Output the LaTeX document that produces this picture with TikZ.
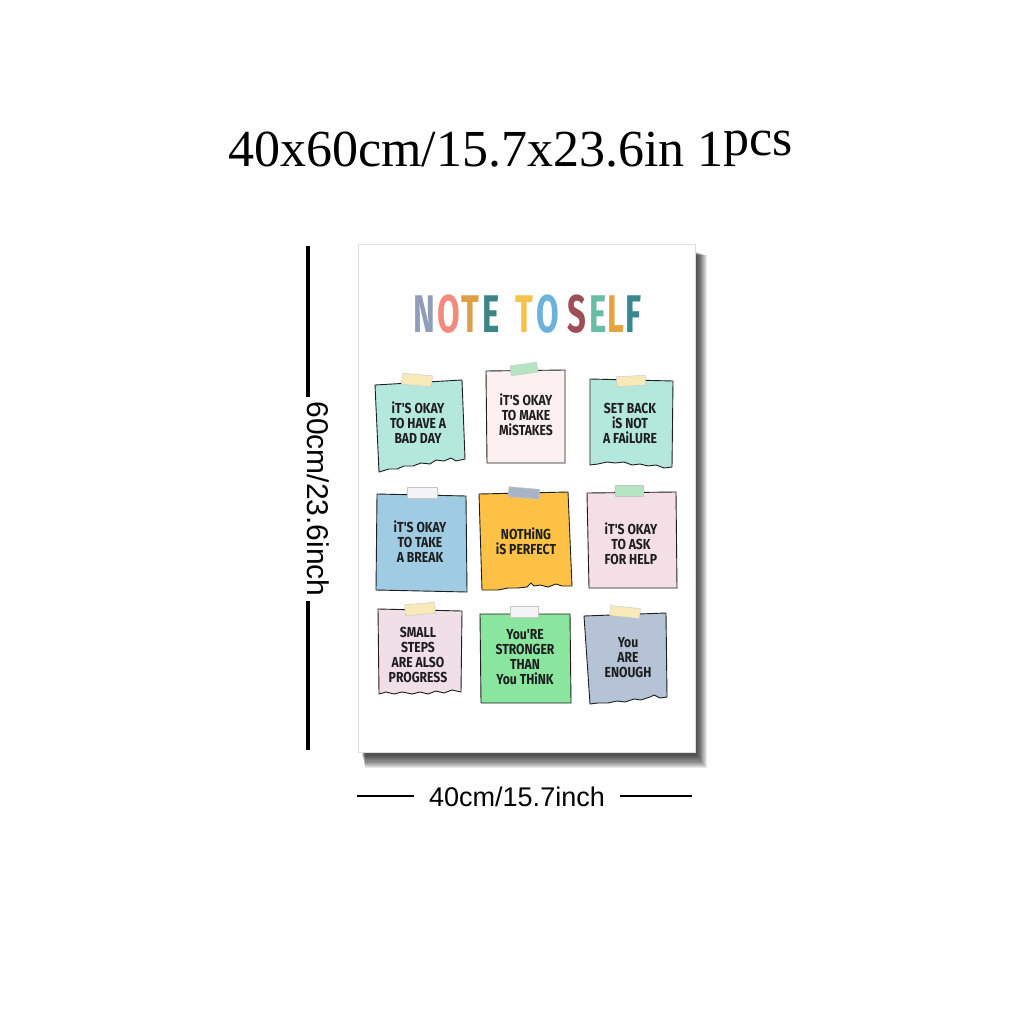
\documentclass[tikz,border=0pt]{standalone}
\usepackage{fontspec}
\setmainfont{Liberation Serif}
\newfontfamily\dimfont{Liberation Sans}
\newfontfamily\notefont{Fira Sans}
\definecolor{cN1}{HTML}{8F9DBA}
\definecolor{cO1}{HTML}{F28B7D}
\definecolor{cT1}{HTML}{DDA047}
\definecolor{cE1}{HTML}{3D8585}
\definecolor{cT2}{HTML}{F6C14E}
\definecolor{cO2}{HTML}{6CB2DC}
\definecolor{cS1}{HTML}{9E4F55}
\definecolor{cE2}{HTML}{69BDA4}
\definecolor{cL1}{HTML}{E3A53C}
\definecolor{cF1}{HTML}{3A8890}
\definecolor{mint}{HTML}{B4E8DD}
\definecolor{palepink}{HTML}{FCF0F0}
\definecolor{skyblue}{HTML}{9FCBE3}
\definecolor{orangey}{HTML}{FDC145}
\definecolor{rosepink}{HTML}{F3DFE5}
\definecolor{lilacpink}{HTML}{F1DFE8}
\definecolor{greeny}{HTML}{8AE59F}
\definecolor{slateblue}{HTML}{B6C3D6}
\definecolor{tapecream}{HTML}{F7E9B8}
\definecolor{tapegreen}{HTML}{B5E4C2}
\definecolor{tapewhite}{HTML}{F4F4F7}
\definecolor{tapegray}{HTML}{A9B3C6}
\definecolor{inkc}{HTML}{1E1E1E}
\begin{document}
\begin{tikzpicture}[x=1pt,y=-1pt,
  notebox/.style={draw=inkc,line width=0.9pt,line join=round},
  tapebox/.style={draw=gray!45,line width=0.4pt,minimum width=30pt,minimum height=11pt,inner sep=0pt},
  notetext/.style={text=inkc,align=center,font=\notefont\bfseries\fontsize{14.5}{15}\selectfont,xscale=0.84,transform shape,inner sep=0pt},
  ltr/.style={anchor=base,font=\notefont\bfseries\fontsize{53}{53}\selectfont,xscale=0.62,transform shape,inner sep=0pt},
  dimline/.style={line width=3.4pt,draw=black},
  hdimline/.style={line width=1.8pt,draw=black}]
\useasboundingbox[fill=white] (0,0) rectangle (1024,1024);
% heading
\node[anchor=base west,inner sep=0pt,font=\fontsize{52}{52}\selectfont] (head) at (228,167) {40x60cm/15.7x23.6in 1\raisebox{0.22em}{pcs}};
% shadow
\foreach \k in {0,...,11}{
  \fill[black,opacity=0.085] (362+\k*0.3,252+\k*0.3) rectangle (697+\k*0.9,756+\k*1.1);
}
% poster
\path[fill=white,draw=gray!25,line width=0.5pt] (358,244) rectangle (695,752);
% title letters
\node[ltr,text=cN1] (l1) at (424,332) {N};
\node[ltr,text=cO1] (l2) at (449,332) {O};
\node[ltr,text=cT1] (l3) at (470,332) {T};
\node[ltr,text=cE1] (l4) at (491,332) {E};
\node[ltr,text=cT2] (l5) at (524,332) {T};
\node[ltr,text=cO2] (l6) at (548,332) {O};
\node[ltr,text=cS1] (l7) at (577,332) {S};
\node[ltr,text=cE2] (l8) at (598,332) {E};
\node[ltr,text=cL1] (l9) at (616,332) {L};
\node[ltr,text=cF1] (l10) at (633,332) {F};
% notes row 1
\path[notebox,fill=mint] (375,385) -- (462,380) -- (465,459) -- (456,461) -- (451,458) -- (444,461) -- (436,460) -- (430,464) -- (421,463) -- (413,466) -- (404,466) -- (397,469) -- (389,469) -- (379,472) -- cycle;
\path[notebox,fill=palepink] (486,371) -- (565,370) -- (565,463) -- (487,463) -- cycle;
\path[notebox,fill=mint] (590,379) -- (673,381) -- (672,467) -- (664,468) -- (656,465) -- (648,466) -- (640,464) -- (632,465) -- (624,462) -- (615,463) -- (607,462) -- (598,464) -- (590,465) -- cycle;
% notes row 2
\path[notebox,fill=skyblue] (377,494) -- (466,496) -- (467,592) -- (376,590) -- cycle;
\path[notebox,fill=orangey] (479,494) -- (568,492) -- (572,586) -- (562,586) -- (556,584) -- (548,587) -- (540,585) -- (534,586) -- (531,583) -- (527,587) -- (518,588) -- (508,588) -- (498,590) -- (482,590) -- cycle;
\path[notebox,fill=rosepink] (587,493) -- (676,492) -- (677,588) -- (589,588) -- cycle;
% notes row 3
\path[notebox,fill=lilacpink] (378,609) -- (462,611) -- (461,692) -- (452,690) -- (444,693) -- (436,691) -- (428,694) -- (420,692) -- (412,694) -- (402,692) -- (394,694) -- (386,692) -- (379,694) -- cycle;
\path[notebox,fill=greeny] (480,614) -- (570,614) -- (571,703) -- (481,703) -- cycle;
\path[notebox,fill=slateblue] (584,616) -- (666,613) -- (667,697) -- (660,698) -- (654,695) -- (650,697) -- (641,700) -- (634,699) -- (625,702) -- (617,701) -- (608,703) -- (598,703) -- (590,704) -- cycle;
% tapes
\node[tapebox,fill=tapecream,rotate=-5] (t1) at (417,380) {};
\node[tapebox,fill=tapegreen,rotate=8,minimum width=27pt,minimum height=10pt] (t2) at (524,369) {};
\node[tapebox,fill=tapecream,rotate=3,minimum width=29pt,minimum height=10pt] (t3) at (631,381) {};
\node[tapebox,fill=tapewhite] (t4) at (422,493) {};
\node[tapebox,fill=tapegray,rotate=-5,minimum width=31pt,minimum height=10pt] (t5) at (524,493) {};
\node[tapebox,fill=tapegreen,minimum width=28pt] (t6) at (629,491) {};
\node[tapebox,fill=tapecream,rotate=5] (t7) at (420,609) {};
\node[tapebox,fill=tapewhite,minimum width=28pt] (t8) at (524,612) {};
\node[tapebox,fill=tapecream,rotate=-6,minimum height=10pt] (t9) at (625,612) {};
% note texts
\node[notetext] (n1) at (418,423) {iT'S OKAY\\TO HAVE A\\BAD DAY};
\node[notetext] (n2) at (526,415) {iT'S OKAY\\TO MAKE\\MiSTAKES};
\node[notetext] (n3) at (630,423) {SET BACK\\iS NOT\\A FAiLURE};
\node[notetext] (n4) at (420,542) {iT'S OKAY\\TO TAKE\\A BREAK};
\node[notetext] (n5) at (526,541) {NOTHiNG\\iS PERFECT};
\node[notetext] (n6) at (631,544) {iT'S OKAY\\TO ASK\\FOR HELP};
\node[notetext] (n7) at (418,655) {SMALL\\STEPS\\ARE ALSO\\PROGRESS};
\node[notetext] (n8) at (525,657) {You'RE\\STRONGER\\THAN\\You THiNK};
\node[notetext] (n9) at (628,658) {You\\ARE\\ENOUGH};
% dimensions
\node[rotate=-90,font=\dimfont\fontsize{30}{30}\selectfont,inner sep=4pt] (vlabel) at (318,499) {60cm/23.6inch};
\coordinate (vtop) at (308,246);
\coordinate (vbot) at (308,750);
\draw[dimline] (vtop) -- (vtop |- vlabel.west);
\draw[dimline] (vbot |- vlabel.east) -- (vbot);
\node[font=\dimfont\fontsize{27}{27}\selectfont,inner sep=0pt] (hlabel) at (517,797) {40cm/15.7inch};
\coordinate (hleft) at (357,796);
\coordinate (hright) at (692,796);
\coordinate (hlin) at (414,796);
\coordinate (hrin) at (620,796);
\draw[hdimline] (hleft) -- (hlin);
\draw[hdimline] (hrin) -- (hright);
\end{tikzpicture}
\end{document}
